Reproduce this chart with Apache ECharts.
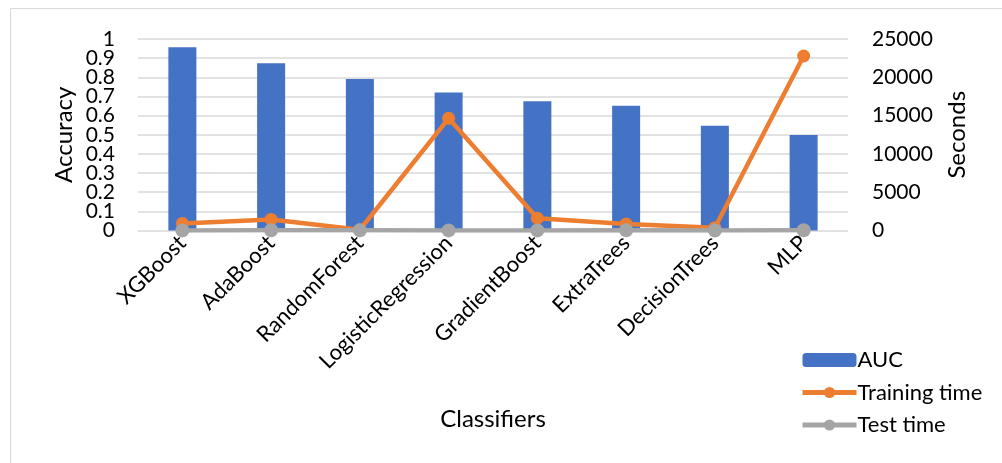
<!DOCTYPE html>
<html>
<head>
<meta charset="utf-8">
<script src="https://cdn.jsdelivr.net/npm/echarts@6/dist/echarts.min.js"></script>
<style>
  html, body { margin: 0; padding: 0; background: #fff; }
  #chart { width: 1002px; height: 463px; }
</style>
</head>
<body>
<div id="chart"></div>
<script>
// Classifier comparison: AUC (bars, left axis) and timings in seconds (lines, right axis)
const classifiers = ['XGBoost', 'AdaBoost', 'RandomForest', 'LogisticRegression', 'GradientBoost', 'ExtraTrees', 'DecisionTrees', 'MLP'];
const aucValues = [0.957, 0.873, 0.791, 0.72, 0.675, 0.652, 0.547, 0.499];
const trainingTime = [900, 1450, 100, 14650, 1600, 850, 350, 22780];
const testTime = [15, 25, 20, 10, 15, 30, 8, 40];
const accuracyTicks = { min: 0, max: 1, interval: 0.1 };
const accuracyLabels = ['0', '0.1', '0.2', '0.3', '0.4', '0.5', '0.6', '0.7', '0.8', '0.9', '1'];
const secondsTicks = { min: 0, max: 25000, interval: 5000 };

const FONT = 'Lato, "Open Sans", sans-serif';
const chart = echarts.init(document.getElementById('chart'));

chart.setOption({
  animation: false,
  textStyle: { fontFamily: FONT, color: '#000' },
  grid: { left: 138, right: 154, top: 39, bottom: 232.5, containLabel: false },
  graphic: [{
    type: 'rect',
    shape: { x: 10.5, y: 8.5, width: 1010, height: 470 },
    style: { fill: 'none', stroke: '#d9d9d9', lineWidth: 1 },
    silent: true
  }],
  legend: {
    orient: 'vertical',
    left: 795,
    top: 343,
    itemWidth: 54,
    itemHeight: 14,
    itemGap: 8.5,
    lineStyle: { width: 5 },
    textStyle: { fontFamily: FONT, fontSize: 22, lineHeight: 24, color: '#000', padding: [0, 0, 0, -4] },
    data: ['AUC', 'Training time', 'Test time']
  },
  xAxis: {
    type: 'category',
    data: classifiers,
    name: 'Classifiers',
    nameLocation: 'middle',
    nameGap: 177,
    nameTextStyle: { fontFamily: FONT, fontSize: 24, color: '#000' },
    axisLine: { show: false },
    axisTick: { show: false },
    axisLabel: { rotate: 45, fontSize: 22, color: '#000', margin: 9, interval: 0, fontFamily: FONT }
  },
  yAxis: [{
    // accuracy scale: gridlines only; its tick text is drawn by the label axis below
    type: 'value',
    min: accuracyTicks.min,
    max: accuracyTicks.max,
    interval: accuracyTicks.interval,
    name: 'Accuracy',
    nameLocation: 'middle',
    nameGap: 62,
    nameRotate: 90,
    nameTextStyle: { fontFamily: FONT, fontSize: 24, color: '#000' },
    axisLine: { show: false },
    axisTick: { show: false },
    axisLabel: { show: false },
    splitLine: { show: true, lineStyle: { color: '#d9d9d9', width: 1.5 } }
  }, {
    type: 'value',
    position: 'right',
    min: secondsTicks.min,
    max: secondsTicks.max,
    interval: secondsTicks.interval,
    name: 'Seconds',
    nameLocation: 'middle',
    nameGap: 97,
    nameRotate: 90,
    nameTextStyle: { fontFamily: FONT, fontSize: 24, color: '#000' },
    axisLine: { show: false },
    axisTick: { show: false },
    axisLabel: {
      fontSize: 21, color: '#000', margin: 24, fontFamily: FONT, formatter: v => String(v),
      showMinLabel: true, showMaxLabel: true
    },
    splitLine: { show: false }
  }, {
    // accuracy tick labels, evenly spaced from 0 (bottom) to 1 (top)
    type: 'category',
    position: 'left',
    data: accuracyLabels,
    boundaryGap: false,
    axisLine: { show: false },
    axisTick: { show: false },
    splitLine: { show: false },
    axisLabel: { interval: 0, fontSize: 21, color: '#000', margin: 23, fontFamily: FONT }
  }],
  series: [{
    name: 'AUC',
    type: 'bar',
    yAxisIndex: 0,
    data: aucValues,
    barWidth: 28,
    itemStyle: { color: '#4472C4' }
  }, {
    name: 'Training time',
    type: 'line',
    yAxisIndex: 1,
    data: trainingTime,
    symbol: 'circle',
    symbolSize: 13,
    lineStyle: { color: '#ED7D31', width: 4.5 },
    itemStyle: { color: '#ED7D31' }
  }, {
    name: 'Test time',
    type: 'line',
    yAxisIndex: 1,
    data: testTime,
    symbol: 'circle',
    symbolSize: 14,
    lineStyle: { color: '#A5A5A5', width: 4.5 },
    itemStyle: { color: '#A5A5A5' }
  }]
});
</script>
</body>
</html>
